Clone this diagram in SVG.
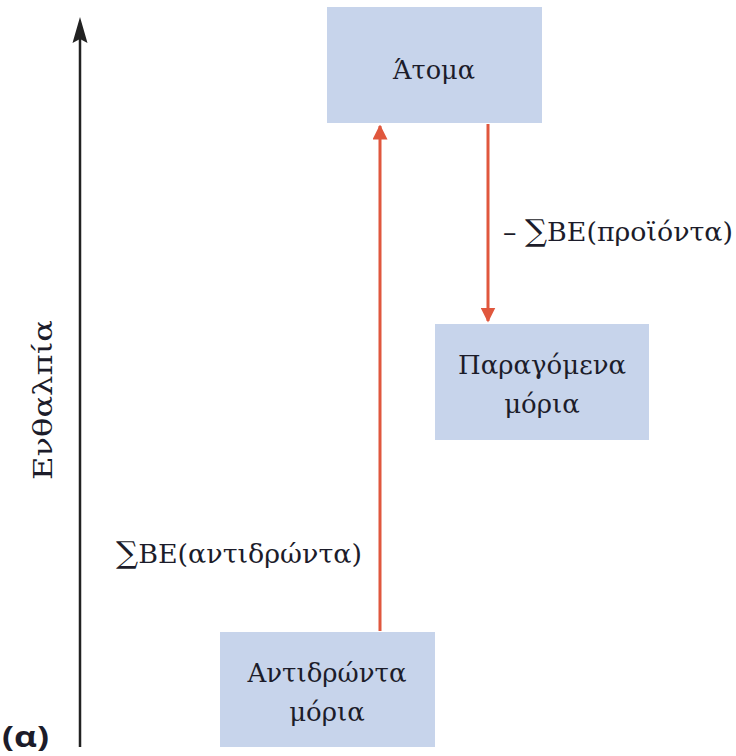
<svg xmlns="http://www.w3.org/2000/svg" width="736" height="756" viewBox="0 0 736 756">
<defs>
<style>
.box{fill:#c7d4eb;}
.t{font-family:"DejaVu Serif","Liberation Serif",serif;font-size:26px;fill:#1c1c2a;text-anchor:middle;}
.lbl{font-family:"DejaVu Serif","Liberation Serif",serif;font-size:26px;fill:#1c1c2a;}
.sig{font-size:30px;}
.red{stroke:#e0573d;stroke-width:3;fill:none;}
.axis{stroke:#222;stroke-width:2.5;fill:none;}
</style>
<marker id="ah-red" viewBox="0 0 10 10" refX="9" refY="5" markerWidth="5" markerHeight="5" orient="auto" markerUnits="strokeWidth">
<path d="M0,0 L10,5 L0,10 z" fill="#e0573d"/>
</marker>
</defs>
<rect width="736" height="756" fill="#ffffff"/>
<g id="connectors">
<line class="axis" x1="80" y1="747" x2="80" y2="38"/>
<path d="M80,17 L87.5,43 L80,39 L72.5,43 z" fill="#222"/>
<line class="red" x1="380" y1="631" x2="380" y2="126" marker-end="url(#ah-red)"/>
<line class="red" x1="488" y1="124" x2="488" y2="321" marker-end="url(#ah-red)"/>
</g>
<g id="node-atoma">
<rect class="box" x="327" y="7" width="215" height="116"/>
<text class="t" x="434" y="79" textLength="82" lengthAdjust="spacingAndGlyphs">Άτομα</text>
</g>
<g id="node-paragomena">
<rect class="box" x="435" y="324" width="214" height="116"/>
<text class="t" x="542" y="374">Παραγόμενα</text>
<text class="t" x="542" y="413">μόρια</text>
</g>
<g id="node-antidronta">
<rect class="box" x="220" y="632" width="215" height="115"/>
<text class="t" x="327" y="682">Αντιδρώντα</text>
<text class="t" x="327" y="721">μόρια</text>
</g>
<g id="labels">
<text class="lbl" x="503" y="241" textLength="230" lengthAdjust="spacingAndGlyphs">– <tspan class="sig">∑</tspan>BE(προϊόντα)</text>
<text class="lbl" x="116" y="563" textLength="246" lengthAdjust="spacingAndGlyphs"><tspan class="sig">∑</tspan>BE(αντιδρώντα)</text>
<text class="lbl" transform="translate(52,400) rotate(-90)" text-anchor="middle" textLength="160" lengthAdjust="spacingAndGlyphs">Ενθαλπία</text>
<text x="2" y="747" textLength="47" lengthAdjust="spacingAndGlyphs" style="font-family:'Open Sans','DejaVu Sans',sans-serif;font-size:28px;font-weight:bold;fill:#1c1c2a;">(α)</text>
</g>
</svg>
